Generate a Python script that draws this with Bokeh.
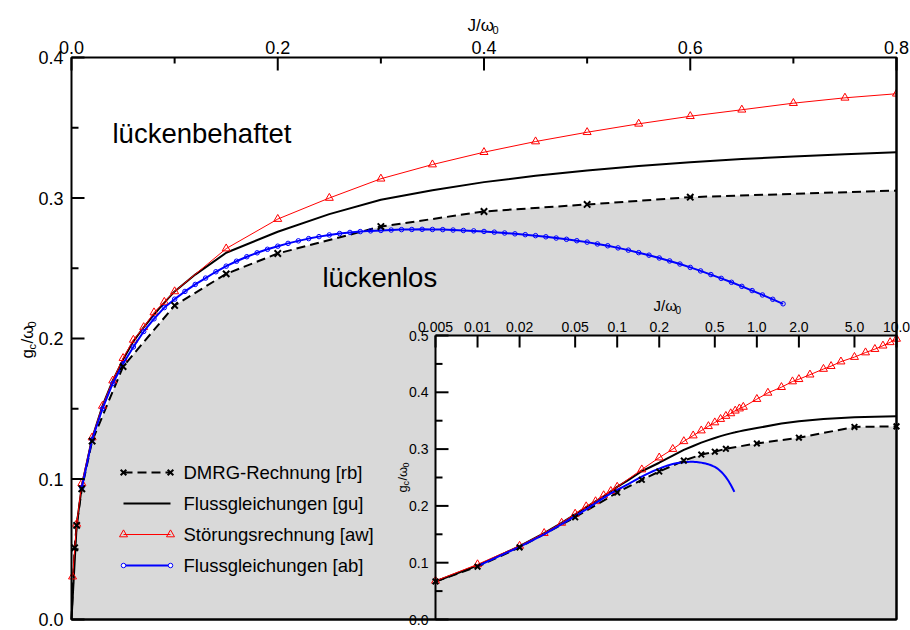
import math
from bokeh.plotting import figure
from bokeh.models import Range1d, LogScale, Label, LabelSet, ColumnDataSource, Whisker
from bokeh.core.properties import value
from bokeh.embed import file_html
from bokeh.resources import INLINE

# ---------------- data ----------------
# DMRG-Rechnung [rb]
dmrg_J = [0.0, 0.003, 0.005, 0.01, 0.02, 0.05, 0.1, 0.15, 0.2, 0.3, 0.4, 0.5, 0.6, 1.0, 2.0, 5.0, 10.0]
dmrg_g = [0.0, 0.051, 0.067, 0.093, 0.127, 0.180, 0.2235, 0.246, 0.2605, 0.2797, 0.2904, 0.2954,
          0.3006, 0.310, 0.320, 0.339, 0.340]
dmrg_err = [0, 0, 0, 0, 0, 0, 0, 0, 0, 0, 0, 0, 0, 0.005, 0.01, 0.01, 0.008]

# Flussgleichungen [gu]
gu_J = [0.0, 0.005, 0.01, 0.02, 0.03, 0.04, 0.05, 0.06, 0.07, 0.08, 0.09, 0.1, 0.12, 0.15, 0.2,
        0.25, 0.3, 0.35, 0.4, 0.45, 0.5, 0.55, 0.6, 0.65, 0.7, 0.75, 0.8, 1.0, 1.5, 2.0, 3.0,
        5.0, 7.0, 10.0]
gu_g = [0.0, 0.067, 0.095, 0.129, 0.152, 0.170, 0.185, 0.198, 0.208, 0.217, 0.2255, 0.2335,
        0.2455, 0.261, 0.276, 0.2885, 0.2987, 0.3055, 0.3113, 0.3158, 0.3196, 0.3228, 0.3255,
        0.3277, 0.3295, 0.3312, 0.3326, 0.337, 0.345, 0.349, 0.353, 0.356, 0.357, 0.358]

# Störungsrechnung [aw]
aw_J = [0.001, 0.005, 0.01, 0.02, 0.03, 0.04, 0.05, 0.06, 0.07, 0.08, 0.09, 0.1, 0.15, 0.2, 0.25,
        0.3, 0.35, 0.4, 0.45, 0.5, 0.55, 0.6, 0.65, 0.7, 0.75, 0.8, 1.0, 1.2, 1.5, 1.8, 2.0, 2.4,
        3.0, 3.4, 4.0, 5.0, 6.0, 7.0, 8.0, 9.0, 10.0]
aw_g = [0.0305, 0.068, 0.097, 0.1295, 0.152, 0.170, 0.186, 0.199, 0.208, 0.2185, 0.226, 0.2335,
        0.264, 0.285, 0.300, 0.3137, 0.3238, 0.3326, 0.3402, 0.3468, 0.3528, 0.3582, 0.3628,
        0.3675, 0.3713, 0.3742, 0.388, 0.399, 0.409, 0.419, 0.423, 0.431, 0.441, 0.446, 0.454,
        0.462, 0.470, 0.476, 0.482, 0.488, 0.494]

# Flussgleichungen [ab]
ab_J = [0.01, 0.02, 0.03, 0.04, 0.05, 0.06, 0.07, 0.08, 0.09, 0.10,
        0.11, 0.12, 0.13, 0.14, 0.15, 0.16, 0.17, 0.18, 0.19, 0.20,
        0.21, 0.22, 0.23, 0.24, 0.25, 0.26, 0.27, 0.28, 0.29, 0.30,
        0.31, 0.32, 0.33, 0.34, 0.35, 0.36, 0.37, 0.38, 0.39, 0.40,
        0.41, 0.42, 0.43, 0.44, 0.45, 0.46, 0.47, 0.48, 0.49, 0.50,
        0.51, 0.52, 0.53, 0.54, 0.55, 0.56, 0.57, 0.58, 0.59, 0.60,
        0.61, 0.62, 0.63, 0.64, 0.65, 0.66, 0.67, 0.68, 0.69]
ab_g = [0.094, 0.128, 0.150, 0.168, 0.182, 0.194, 0.205, 0.214, 0.222, 0.228,
        0.2335, 0.2385, 0.243, 0.2475, 0.2515, 0.255, 0.2582, 0.261, 0.2635, 0.2657,
        0.2677, 0.2695, 0.2711, 0.2725, 0.2737, 0.2747, 0.2755, 0.2761, 0.2766, 0.2769,
        0.2772, 0.2775, 0.2776, 0.2777, 0.2776, 0.2775, 0.2772, 0.2769, 0.2766, 0.2762,
        0.2757, 0.2751, 0.2745, 0.2739, 0.2732, 0.2724, 0.2715, 0.2706, 0.2696, 0.2686,
        0.2673, 0.2660, 0.2645, 0.2629, 0.2611, 0.2593, 0.2573, 0.2552, 0.2530, 0.2506,
        0.2481, 0.2455, 0.2428, 0.2400, 0.2371, 0.2341, 0.2310, 0.2279, 0.2247]

# ticks
main_x_ticks = [0.0, 0.2, 0.4, 0.6, 0.8]
main_x_labels = ["0.0", "0.2", "0.4", "0.6", "0.8"]
main_x_minor = [0.1, 0.3, 0.5, 0.7]
main_y_ticks = [0.0, 0.1, 0.2, 0.3, 0.4]
main_y_labels = ["0.0", "0.1", "0.2", "0.3", "0.4"]
main_y_minor = [0.05, 0.15, 0.25, 0.35]
ins_x_ticks = [0.005, 0.01, 0.02, 0.05, 0.1, 0.2, 0.5, 1.0, 2.0, 5.0, 10.0]
ins_x_labels = ["0.005", "0.01", "0.02", "0.05", "0.1", "0.2", "0.5", "1.0", "2.0", "5.0", "10.0"]
ins_y_ticks = [0.0, 0.1, 0.2, 0.3, 0.4, 0.5]
ins_y_labels = ["0.0", "0.1", "0.2", "0.3", "0.4", "0.5"]
ins_y_minor = [0.05, 0.15, 0.25, 0.35, 0.45]

legend_labels = ["DMRG-Rechnung [rb]", "Flussgleichungen [gu]",
                 "Störungsrechnung [aw]", "Flussgleichungen [ab]"]

# ---------------- layout constants ----------------
W, H = 910, 630
FL, FR, FT, FB = 71, 896, 57, 619          # main plot box (px)
X0, X1, Y0, Y1 = 0.0, 0.8, 0.0, 0.4
IL, IT = 435, 335                           # inset left / top (px)
IX0, IX1, IY0, IY1 = 0.005, 10.0, 0.0, 0.5
FONT = "Liberation Sans"
GRAY = "#d9d9d9"
RED = "#ff0000"
BLUE = "#0000ff"

# main scale: whole canvas is the frame, data box sits at FL..FR x FT..FB
sx = (X1 - X0) / (FR - FL)
sy = (Y1 - Y0) / (FB - FT)
main_xr = Range1d(X0 - FL * sx, X1 + (W - FR) * sx)
main_yr = Range1d(Y0 - (H - FB) * sy, Y1 + FT * sy)
# inset scale (log x)
dec_per_px = (math.log10(IX1) - math.log10(IX0)) / (FR - IL)
ins_xr = Range1d(10 ** (math.log10(IX0) - IL * dec_per_px),
                 10 ** (math.log10(IX1) + (W - FR) * dec_per_px))
isy = (IY1 - IY0) / (FB - IT)
ins_yr = Range1d(IY0 - (H - FB) * isy, IY1 + IT * isy)


def jx(px):
    return X0 + (px - FL) * sx


def gy(py):
    return Y0 + (FB - py) * sy


p = figure(width=W, height=H, x_range=main_xr, y_range=main_yr,
           x_axis_location=None, y_axis_location=None,
           output_backend="svg", toolbar_location=None,
           min_border=0, min_border_left=0, min_border_right=0,
           min_border_top=0, min_border_bottom=0)
p.extra_x_ranges = {"ins": ins_xr}
p.extra_x_scales = {"ins": LogScale()}
p.extra_y_ranges = {"ins": ins_yr}
p.grid.visible = False
p.background_fill_color = "white"
p.border_fill_color = "white"
p.outline_line_color = None

# ---------------- main plot ----------------
p.varea(x=dmrg_J, y1=0, y2=dmrg_g, fill_color=GRAY)
p.line(dmrg_J, dmrg_g, line_color="black", line_width=2, line_dash="9 5")
p.line(gu_J, gu_g, line_color="black", line_width=2)
p.line(aw_J, aw_g, line_color=RED, line_width=1)
p.scatter(aw_J, aw_g, marker="triangle", size=8, line_color=RED, fill_color=None, line_width=1)
p.line(ab_J, ab_g, line_color=BLUE, line_width=2)
p.scatter(ab_J, ab_g, marker="circle", size=4.5, line_color=BLUE, fill_color=None, line_width=1)
mJ = [j for j in dmrg_J if j > 0]
mg = [g for j, g in zip(dmrg_J, dmrg_g) if j > 0]
p.scatter(mJ, mg, marker="x", size=9, line_color="black", line_width=2)

# white mask right of the main box (data beyond J = 0.8)
p.quad(left=[X1], right=[main_xr.end], bottom=[main_yr.start], top=[main_yr.end],
       fill_color="white", line_color=None)

# ---------------- inset ----------------
R = dict(x_range_name="ins", y_range_name="ins")
p.quad(left=[IX0], right=[IX1], bottom=[IY0], top=[IY1], fill_color="white", line_color=None, **R)


def ins(J, g):
    return [j for j in J if j >= IX0], [v for j, v in zip(J, g) if j >= IX0]


iJ, ig = ins(dmrg_J, dmrg_g)
p.varea(x=iJ, y1=0, y2=ig, fill_color=GRAY, **R)
p.line(iJ, ig, line_color="black", line_width=2, line_dash="9 5", **R)
gJ, gg = ins(gu_J, gu_g)
p.line(gJ, gg, line_color="black", line_width=2, **R)
aJ, ag = ins(aw_J, aw_g)
p.line(aJ, ag, line_color=RED, line_width=1, **R)
p.scatter(aJ, ag, marker="triangle", size=8, line_color=RED, fill_color=None, line_width=1, **R)
bJ, bg = ins(ab_J, ab_g)
p.line(bJ, bg, line_color=BLUE, line_width=2, **R)
p.scatter(iJ, ig, marker="x", size=8, line_color="black", line_width=2, **R)

eb = [(j, g, e) for j, g, e in zip(dmrg_J, dmrg_g, dmrg_err) if e > 0]
wsrc = ColumnDataSource(dict(base=[t[0] for t in eb], lower=[t[1] - t[2] for t in eb],
                             upper=[t[1] + t[2] for t in eb]))
wh = Whisker(source=wsrc, base="base", lower="lower", upper="upper", line_color="black",
             line_width=1, **R)
wh.upper_head.size = 7
wh.lower_head.size = 7
wh.upper_head.line_width = 1
wh.lower_head.line_width = 1
p.add_layout(wh)

# ---------------- frames and ticks ----------------
# main box
p.quad(left=[X0], right=[X1], bottom=[Y0], top=[Y1], fill_color=None, line_color="black",
       line_width=2)
p.ray(x=main_x_ticks, y=[Y1] * len(main_x_ticks), length=13, length_units="screen",
      angle=-math.pi / 2, line_color="black", line_width=2)
p.ray(x=main_x_minor, y=[Y1] * len(main_x_minor), length=6, length_units="screen",
      angle=-math.pi / 2, line_color="black", line_width=2)
p.ray(x=[X0] * len(main_y_ticks), y=main_y_ticks, length=13, length_units="screen",
      angle=0, line_color="black", line_width=2)
p.ray(x=[X0] * len(main_y_minor), y=main_y_minor, length=7, length_units="screen",
      angle=0, line_color="black", line_width=2)
# inset box (left and top; right/bottom coincide with main box)
p.segment(x0=[IX0, IX0], y0=[IY0, IY1], x1=[IX0, IX1], y1=[IY1, IY1], line_color="black",
          line_width=2, **R)
p.ray(x=ins_x_ticks, y=[IY1] * len(ins_x_ticks), length=12, length_units="screen",
      angle=-math.pi / 2, line_color="black", line_width=2, **R)
p.ray(x=[IX0] * len(ins_y_ticks), y=ins_y_ticks, length=13, length_units="screen",
      angle=0, line_color="black", line_width=2, **R)
p.ray(x=[IX0] * len(ins_y_minor), y=ins_y_minor, length=7, length_units="screen",
      angle=0, line_color="black", line_width=2, **R)
# redraw main right/bottom edges over the inset background
p.segment(x0=[X1, X0], y0=[Y0, Y0], x1=[X1, X1], y1=[Y1, Y0], line_color="black", line_width=2)


# ---------------- tick labels ----------------
def labelset(xs, ys, texts, size, rng=None, **kw):
    src = ColumnDataSource(dict(x=xs, y=ys, t=texts))
    extra = R if rng else {}
    p.add_layout(LabelSet(x="x", y="y", text="t", source=src, text_font=value(FONT),
                          text_font_size=size, text_color="black", **extra, **kw))


labelset(main_x_ticks, [Y1] * len(main_x_ticks), main_x_labels, "18px", y_offset=4,
         text_align="center", text_baseline="bottom")
labelset([X0] * len(main_y_ticks), main_y_ticks, main_y_labels, "18px", x_offset=-8,
         text_align="right", text_baseline="middle")
labelset(ins_x_ticks, [IY1] * len(ins_x_ticks), ins_x_labels, "14px", rng=True, y_offset=4,
         text_align="center", text_baseline="bottom")
labelset([IX0] * len(ins_y_ticks), ins_y_ticks, ins_y_labels, "14px", rng=True, x_offset=-7,
         text_align="right", text_baseline="middle")


# ---------------- text annotations ----------------
def lab(px, py, text, size, angle=0.0, baseline="alphabetic"):
    p.add_layout(Label(x=jx(px), y=gy(py), text=text, text_font=FONT,
                       text_font_size=f"{size}px", text_color="black", angle=angle,
                       text_align="left", text_baseline=baseline))


rot = math.pi / 2
# main axis titles
lab(467, 25, "J/ω", 17)
lab(492, 29, "0", 11)
lab(27, 358, "g", 17, rot)
lab(31, 349, "c", 11, rot)
lab(27, 343, "/ω", 17, rot)
lab(31, 327, "0", 11, rot)
# inset axis titles
lab(653, 305, "J/ω", 15)
lab(675, 309, "0", 10)
lab(402, 492, "g", 13, rot)
lab(405, 485, "c", 9, rot)
lab(402, 480, "/ω", 13, rot)
lab(405, 467, "0", 9, rot)
# region labels
lab(112, 133, "lückenbehaftet", 27.5)
lab(322, 277, "lückenlos", 27.5)

# ---------------- legend ----------------
rows = [472, 503, 534, 565]
lx0, lx1, ltx = 123, 170, 183
lxs = [jx(lx0), jx(lx1)]
p.line(lxs, [gy(rows[0])] * 2, line_color="black", line_width=2, line_dash="9 5")
p.scatter(lxs, [gy(rows[0])] * 2, marker="x", size=8, line_color="black", line_width=2)
p.line(lxs, [gy(rows[1])] * 2, line_color="black", line_width=2)
p.line(lxs, [gy(rows[2])] * 2, line_color=RED, line_width=1)
p.scatter(lxs, [gy(rows[2])] * 2, marker="triangle", size=8, line_color=RED, fill_color=None)
p.line(lxs, [gy(rows[3])] * 2, line_color=BLUE, line_width=2)
p.scatter(lxs, [gy(rows[3])] * 2, marker="circle", size=4.5, line_color=BLUE, fill_color="white")
for r, t in zip(rows, legend_labels):
    lab(ltx, r, t, 18.5, baseline="middle")

open("out.html", "w").write(file_html(p, INLINE))
